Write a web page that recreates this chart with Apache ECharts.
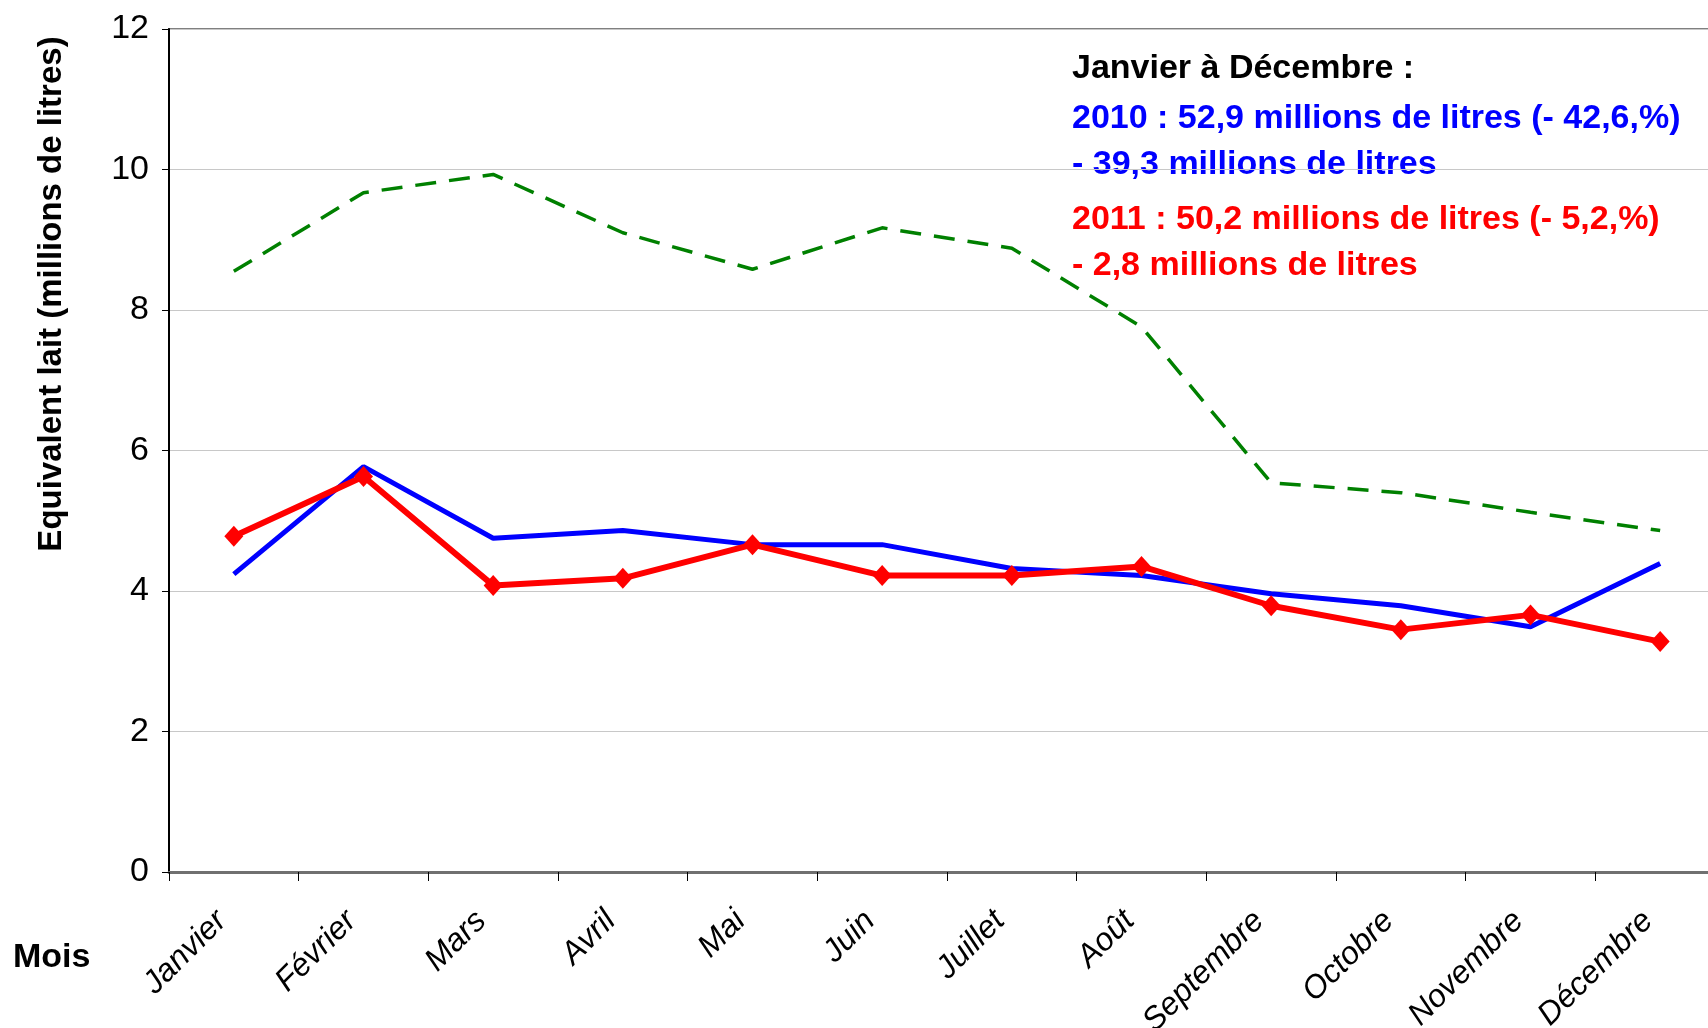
<!DOCTYPE html>
<html>
<head>
<meta charset="utf-8">
<script src="https://cdn.jsdelivr.net/npm/echarts@6/dist/echarts.min.js"></script>
<style>
html,body{margin:0;padding:0;background:#fff;overflow:hidden;}
#chart{width:1708px;height:1028px;}
</style>
</head>
<body>
<div id="chart"></div>
<script>
const months = ['Janvier','Février','Mars','Avril','Mai','Juin','Juillet','Août','Septembre','Octobre','Novembre','Décembre'];
const serie2009 = [8.55, 9.67, 9.93, 9.10, 8.58, 9.17, 8.88, 7.76, 5.54, 5.40, 5.12, 4.86];
const serie2010 = [4.24, 5.77, 4.75, 4.86, 4.66, 4.66, 4.32, 4.22, 3.96, 3.79, 3.49, 4.39];
const serie2011 = [4.78, 5.63, 4.08, 4.18, 4.66, 4.22, 4.22, 4.35, 3.79, 3.45, 3.66, 3.28];
const yTicks = { min: 0, max: 12, interval: 2 };
const yAxisTitle = 'Equivalent lait (millions de litres)';
const xAxisTitle = 'Mois';
const noteLines = [
  { text: 'Janvier à Décembre :', color: '#000000' },
  { text: '2010 : 52,9 millions de litres (- 42,6,%)', color: '#0000ff' },
  { text: '- 39,3 millions de litres', color: '#0000ff' },
  { text: '2011 : 50,2 millions de litres (- 5,2,%)', color: '#ff0000' },
  { text: '- 2,8 millions de litres', color: '#ff0000' }
];
const noteY = [69, 119, 165, 220, 266];

const FONT = '"Liberation Sans", Arial, sans-serif';
const chart = echarts.init(document.getElementById('chart'), null, {renderer: 'canvas'});

const graphics = noteLines.map((l, i) => ({
  type: 'text', x: 1072, y: noteY[i],
  style: { text: l.text, fill: l.color, font: 'bold 34px ' + FONT, textVerticalAlign: 'middle' }
}));
graphics.push({
  type: 'text', x: 13, y: 958,
  style: { text: xAxisTitle, fill: '#000', font: 'bold 34px ' + FONT, textVerticalAlign: 'middle' }
});
graphics.push({
  type: 'text', x: 52, y: 294, rotation: Math.PI / 2,
  style: { text: yAxisTitle, fill: '#000', font: 'bold 33px ' + FONT, textAlign: 'center', textVerticalAlign: 'middle' }
});

chart.setOption({
  backgroundColor: '#ffffff',
  animation: false,
  grid: { left: 169, top: 29, width: 1556, height: 843, show: true, borderColor: '#808080', borderWidth: 2,
          containLabel: false, outerBoundsMode: 'none' },
  xAxis: {
    type: 'category', data: months, boundaryGap: true,
    axisLine: { lineStyle: { color: '#707070', width: 3 } },
    axisTick: { show: true, alignWithLabel: false, length: 9, lineStyle: { color: '#000', width: 1 } },
    axisLabel: { interval: 0, rotate: 45, margin: 32, padding: [0, 17, 0, 0], fontSize: 32, fontStyle: 'italic', color: '#000', fontFamily: FONT, hideOverlap: false },
    splitLine: { show: false }
  },
  yAxis: {
    type: 'value', min: yTicks.min, max: yTicks.max, interval: yTicks.interval,
    axisLine: { show: true, lineStyle: { color: '#000', width: 2 } },
    axisTick: { show: true, inside: false, length: 7, lineStyle: { color: '#000', width: 1 } },
    axisLabel: { margin: 20, fontSize: 34, color: '#000', fontFamily: FONT },
    splitLine: { show: true, lineStyle: { color: '#c8c8c8', width: 1 } }
  },
  graphic: graphics,
  series: [
    { name: '2009', type: 'line', data: serie2009, symbol: 'none', z: 2,
      lineStyle: { color: '#008000', width: 3.5, type: [21, 13] } },
    { name: '2010', type: 'line', data: serie2010, symbol: 'none', z: 3,
      lineStyle: { color: '#0000ff', width: 5 } },
    { name: '2011', type: 'line', data: serie2011, symbol: 'diamond', symbolSize: [19, 21], z: 4,
      itemStyle: { color: '#ff0000' },
      lineStyle: { color: '#ff0000', width: 6 } }
  ]
});
</script>
</body>
</html>
